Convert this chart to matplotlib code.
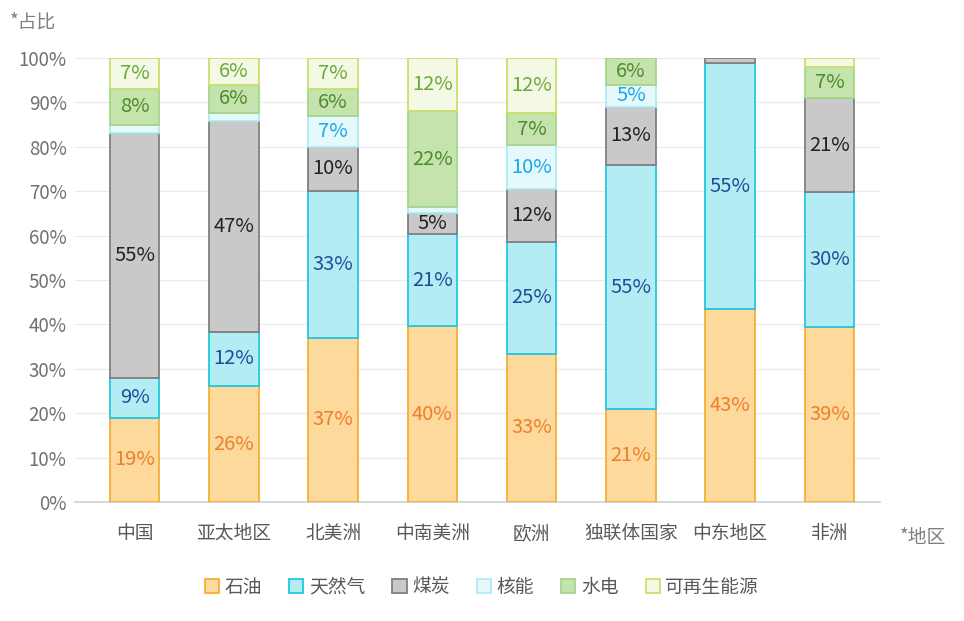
import matplotlib
matplotlib.use("Agg")
import matplotlib.pyplot as plt
from matplotlib.patches import Patch
import numpy as np

plt.rcParams['font.family'] = ['Noto Sans CJK SC', 'DejaVu Sans']

categories = ['中国', '亚太地区', '北美洲', '中南美洲', '欧洲', '独联体国家', '中东地区', '非洲']
series_names = ['石油', '天然气', '煤炭', '核能', '水电', '可再生能源']
oil        = [19.0, 26.1, 37.0, 39.6, 33.4, 20.9, 43.4, 39.4]
gas        = [9.0, 12.3, 33.0, 20.8, 25.2, 55.0, 55.4, 30.4]
coal       = [55.0, 47.4, 10.0, 4.7, 11.9, 13.1, 1.2, 21.1]
nuclear    = [2.0, 1.9, 7.0, 1.3, 9.9, 4.9, 0.0, 0.0]
hydro      = [8.0, 6.2, 6.0, 21.7, 7.2, 6.1, 0.0, 7.0]
renewable  = [7.0, 6.1, 7.0, 11.9, 12.4, 0.0, 0.0, 2.1]
y_ticks = [0, 10, 20, 30, 40, 50, 60, 70, 80, 90, 100]

data = [oil, gas, coal, nuclear, hydro, renewable]
fills = ['#FDD99B', '#B4ECF4', '#C9C9C9', '#E5F8FC', '#C5E3AD', '#F4F9E6']
edges = ['#F5AE34', '#22C8E0', '#808080', '#AEEAF4', '#A6D58C', '#C8E06C']
label_colors = ['#EE7F2D', '#1F4E99', '#222222', '#19A9E6', '#4F8A2E', '#6BAA3A']

fig = plt.figure(figsize=(9.64, 6.21), dpi=100)
ax = fig.add_axes([75/964, 1-502/621, (880-75)/964, (502-58)/621])

x = np.arange(len(categories))
bottom = np.zeros(len(categories))
for vals, fc, ec, lc in zip(data, fills, edges, label_colors):
    v = np.array(vals)
    lw = np.where(v > 0, 1.3, 0.0)
    ax.bar(x, v, width=0.5, bottom=bottom, color=fc, edgecolor=ec, linewidth=lw, zorder=3)
    for xi, b, h in zip(x, bottom, v):
        if h >= 3:
            ax.text(xi, b + h/2, f'{h:.0f}%', ha='center', va='center', color=lc,
                    fontsize=14.5, zorder=4)
    bottom += v

ax.set_xlim(-0.6, 7.51)
ax.set_ylim(0, 100)
ax.set_yticks(y_ticks)
ax.set_yticklabels([f'{t}%' for t in y_ticks])
ax.set_xticks(x)
ax.set_xticklabels(categories)
ax.tick_params(axis='both', length=0, labelsize=13.5)
ax.tick_params(axis='y', colors='#707070', pad=6)
ax.tick_params(axis='x', colors='#595959', pad=15)
ax.grid(axis='y', color='#EBEBEB', linewidth=1, zorder=0)
for s in ['top', 'right', 'left']:
    ax.spines[s].set_visible(False)
ax.spines['bottom'].set_color('#D0D0D0')
ax.spines['bottom'].set_linewidth(1.2)

fig.text(10/964, 1-22/621, '*占比', ha='left', va='center', color='#7F7F7F',
         fontsize=13.5, style='italic')
fig.text(946/964, 1-537/621, '*地区', ha='right', va='center', color='#7F7F7F',
         fontsize=13.5, style='italic')

handles = [Patch(facecolor=fc, edgecolor=ec, linewidth=1.3) for fc, ec in zip(fills, edges)]
leg = fig.legend(handles, series_names, loc='center', bbox_to_anchor=(0.5, 1-587/621),
                 ncol=6, frameon=False, fontsize=13.5, handlelength=0.75, handleheight=0.75,
                 handletextpad=0.3, columnspacing=1.45)
for t in leg.get_texts():
    t.set_color('#595959')

fig.savefig('out.png', dpi=100)
